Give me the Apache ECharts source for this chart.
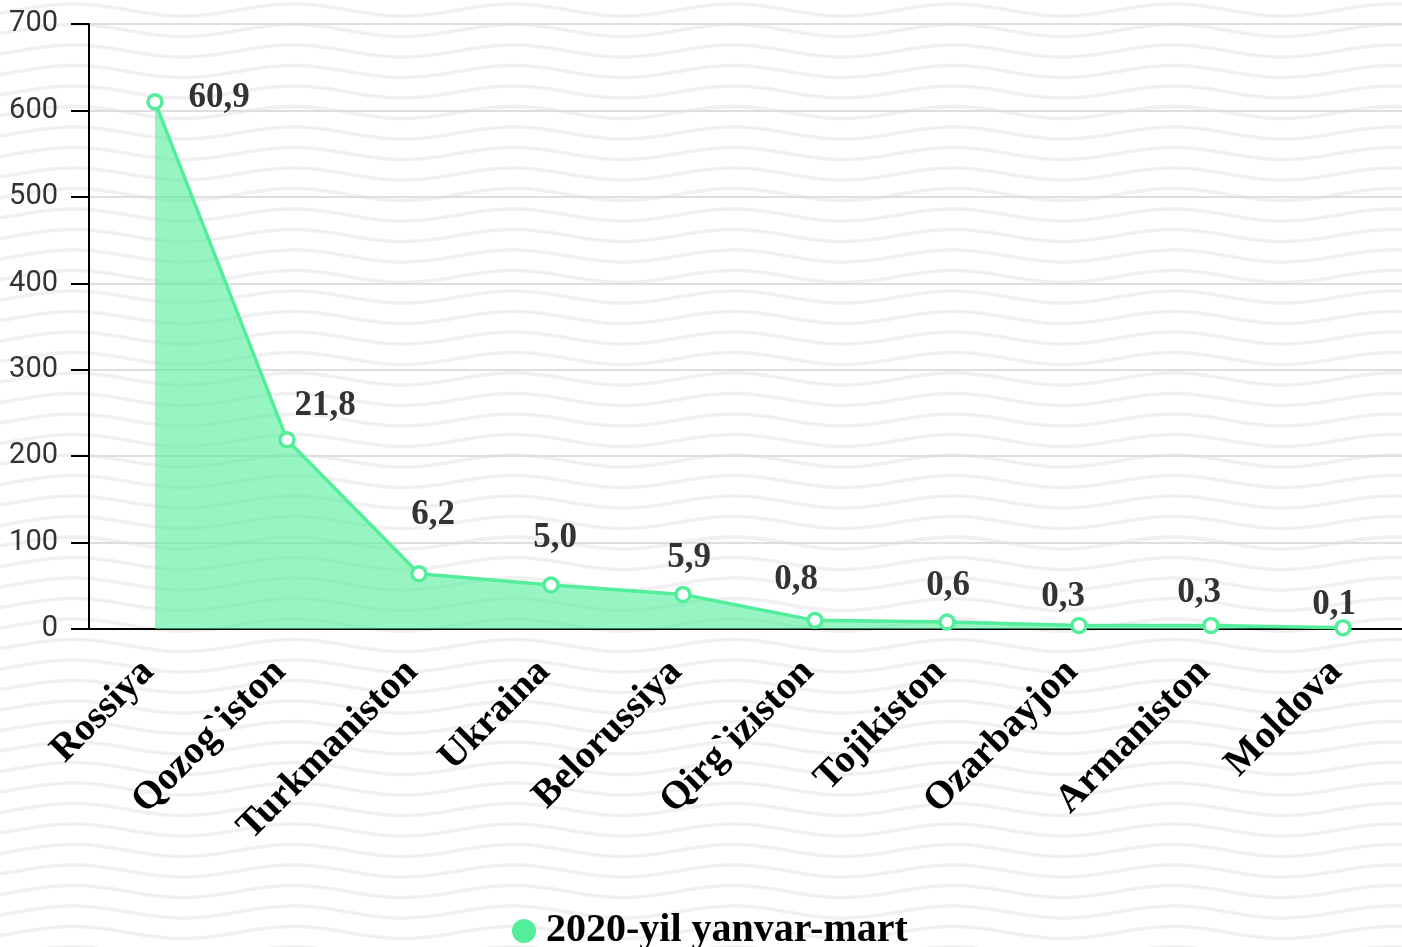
<!DOCTYPE html>
<html>
<head>
<meta charset="utf-8">
<title>2020-yil yanvar-mart</title>
<script src="https://cdn.jsdelivr.net/npm/echarts@6/dist/echarts.min.js"></script>
<style>
  html, body {
    margin: 0;
    padding: 0;
    width: 1402px;
    height: 947px;
    background-color: #fff;
    overflow: hidden;
  }
  #main {
    width: 1402px;
    height: 947px;
  }
</style>
</head>
<body>
<div id="main"></div>
<script>
// chart data
const countries = ["Rossiya", "Qozog`iston", "Turkmaniston", "Ukraina", "Belorussiya",
  "Qirg`iziston", "Tojikiston", "Ozarbayjon", "Armaniston", "Moldova"];
const values = [610, 219, 64, 51, 40, 10, 8, 4, 4, 1.5];
const shareLabels = ["60,9", "21,8", "6,2", "5,0", "5,9", "0,8", "0,6", "0,3", "0,3", "0,1"];
const yTicks = [0, 100, 200, 300, 400, 500, 600, 700];
const seriesName = "2020-yil yanvar-mart";

// label nudges (px) so the numbers sit where they do in the original
const labelShift = [[64, -4], [38, -34], [14, -59], [4, -47], [6, -36],
  [-19, -40], [1, -36], [-16, -29], [-12, -33], [-9, -23]];

const green = "#52EE9C";

// wavy background
function wavesBg() {
  let d = "";
  for (let k = -1; k <= 2; k++) {
    const pts = [];
    for (let x = 0; x <= 220; x += 4) {
      const y = k * 20.5 + 10 - 6 * Math.cos(2 * Math.PI * (x - 73) / 220);
      pts.push(x + "," + y.toFixed(2));
    }
    d += '<polyline points="' + pts.join(" ") + '" fill="none" stroke="#f0f0f0" stroke-width="3.5"/>';
  }
  const svg = '<svg xmlns="http://www.w3.org/2000/svg" width="220" height="41">' + d + "</svg>";
  return 'url("data:image/svg+xml,' + encodeURIComponent(svg) + '")';
}
document.body.style.backgroundImage = wavesBg();

const chart = echarts.init(document.getElementById("main"));

const option = {
  animation: false,
  grid: {
    left: 89,
    top: 24,
    width: 1320,
    bottom: 318,
    containLabel: false,
    outerBoundsMode: "none",
  },
  legend: {
    left: 507,
    top: 906,
    icon: "circle",
    itemWidth: 24,
    itemHeight: 24,
    itemStyle: { color: green, borderWidth: 0 },
    textStyle: {
      fontFamily: "Liberation Serif",
      fontWeight: "bold",
      fontSize: 40,
      color: "#000",
      padding: [0, 0, 0, 5],
    },
    data: [seriesName],
  },
  xAxis: {
    type: "category",
    data: countries,
    boundaryGap: true,
    axisLine: { lineStyle: { color: "#000", width: 2 } },
    axisTick: { alignWithLabel: true, length: 17, lineStyle: { color: "#000", width: 2 } },
    axisLabel: {
      rotate: 45,
      margin: 30,
      interval: 0,
      padding: [0, 10, 0, 0],
      fontFamily: "Liberation Serif",
      fontWeight: "bold",
      fontSize: 39,
      color: "#000",
    },
    splitLine: { show: false },
  },
  yAxis: {
    type: "value",
    min: yTicks[0],
    max: yTicks[yTicks.length - 1],
    interval: yTicks[1] - yTicks[0],
    axisLine: { show: true, lineStyle: { color: "#000", width: 2 } },
    axisTick: { show: true, length: 18, lineStyle: { color: "#000", width: 2 } },
    axisLabel: {
      margin: 31,
      padding: [4, 0, 0, 0],
      fontFamily: "Roboto",
      fontSize: 29,
      color: "#333",
    },
    splitLine: { lineStyle: { color: "#dedede", width: 2 } },
  },
  series: [
    {
      name: seriesName,
      type: "line",
      symbol: "circle",
      symbolSize: 14,
      data: values.map((v, i) => ({
        value: v,
        label: { offset: labelShift[i] },
      })),
      lineStyle: { color: green, width: 3.5 },
      itemStyle: { color: "#fff", borderColor: green, borderWidth: 3.5 },
      areaStyle: { color: green, opacity: 0.6 },
      label: {
        show: true,
        position: "inside",
        fontFamily: "Liberation Serif",
        fontWeight: "bold",
        fontSize: 35,
        color: "#333",
        formatter: (p) => shareLabels[p.dataIndex],
      },
      z: 3,
    },
  ],
};

chart.setOption(option);
</script>
</body>
</html>
